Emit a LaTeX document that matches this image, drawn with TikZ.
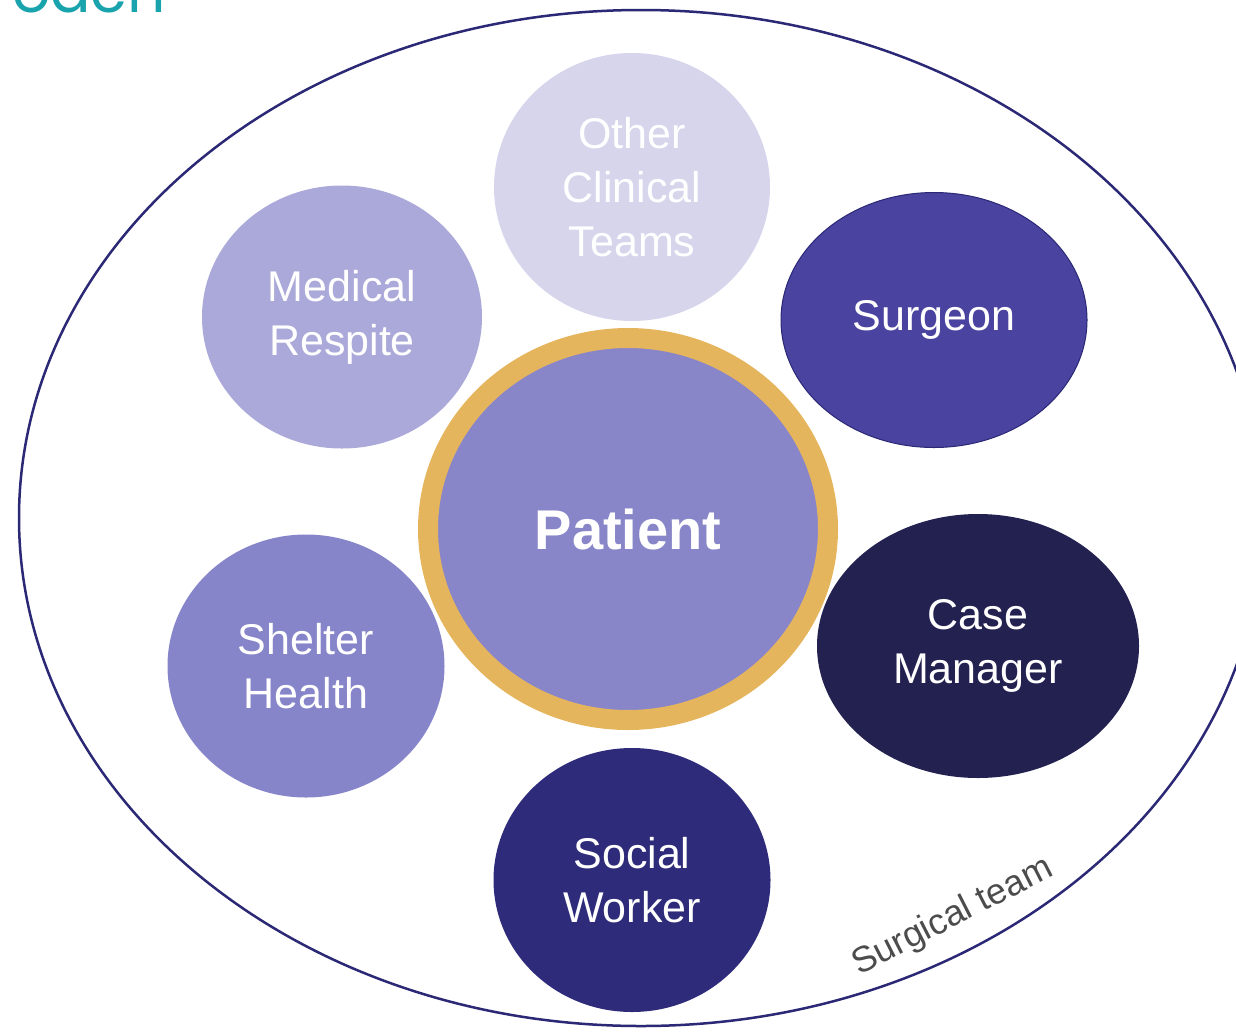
\documentclass[tikz,border=0pt]{standalone}
\usepackage{fontspec}
\setmainfont{Liberation Sans}
\newfontfamily\headfont{Poppins}
\usetikzlibrary{shapes.geometric}
\definecolor{headteal}{HTML}{19A3AD}
\definecolor{rimnavy}{HTML}{2B2875}
\definecolor{othercol}{HTML}{D6D5EC}
\definecolor{respitecol}{HTML}{ABA9D9}
\definecolor{surgeoncol}{HTML}{4A43A0}
\definecolor{patientcol}{HTML}{8886C9}
\definecolor{ringgold}{HTML}{E5B55E}
\definecolor{sheltercol}{HTML}{8785C9}
\definecolor{casecol}{HTML}{222150}
\definecolor{socialcol}{HTML}{2E2B7A}
\tikzset{member/.style={ellipse, inner sep=0pt, align=center, text=white, font=\fontsize{43}{54}\selectfont}}
\begin{document}
\begin{tikzpicture}[x=1pt,y=-1pt]
            \useasboundingbox (0,0) rectangle (1236,1034);
            \clip (0,0) rectangle (1236,1034);
            \node[anchor=base east, text=headteal, font=\headfont\fontsize{60}{60}\selectfont, inner sep=0pt] (head) at (166,12) {oach};
            \draw[rimnavy, line width=2.5pt] (641,518) ellipse [x radius=622, y radius=508];
            \node[member, fill=othercol, minimum width=276pt, minimum height=268pt] (other) at (632,187) {Other\\Clinical\\Teams};
            \node[member, fill=respitecol, minimum width=280pt, minimum height=263pt] (respite) at (342,317) {Medical\\Respite};
            \node[member, fill=surgeoncol, draw=rimnavy, line width=1pt, minimum width=306pt, minimum height=255pt] (surgeon) at (934,320) {Surgeon};
            \node[member, fill=patientcol, draw=ringgold, line width=20pt, minimum width=400pt, minimum height=382pt, font=\bfseries\fontsize{56}{60}\selectfont] (patient) at (628,529) {Patient};
            \node[member, fill=sheltercol, minimum width=277pt, minimum height=263pt] (shelter) at (306,666) {Shelter\\Health};
            \node[member, fill=casecol, minimum width=322pt, minimum height=264pt] (casemgr) at (978,646) {Case\\Manager};
            \node[member, fill=socialcol, minimum width=277pt, minimum height=264pt] (social) at (632,880) {Social\\Worker};
            \node[rotate=27, text=black!70, font=\fontsize{36}{40}\selectfont] (team) at (953,917) {Surgical team};
        \end{tikzpicture}
\end{document}
